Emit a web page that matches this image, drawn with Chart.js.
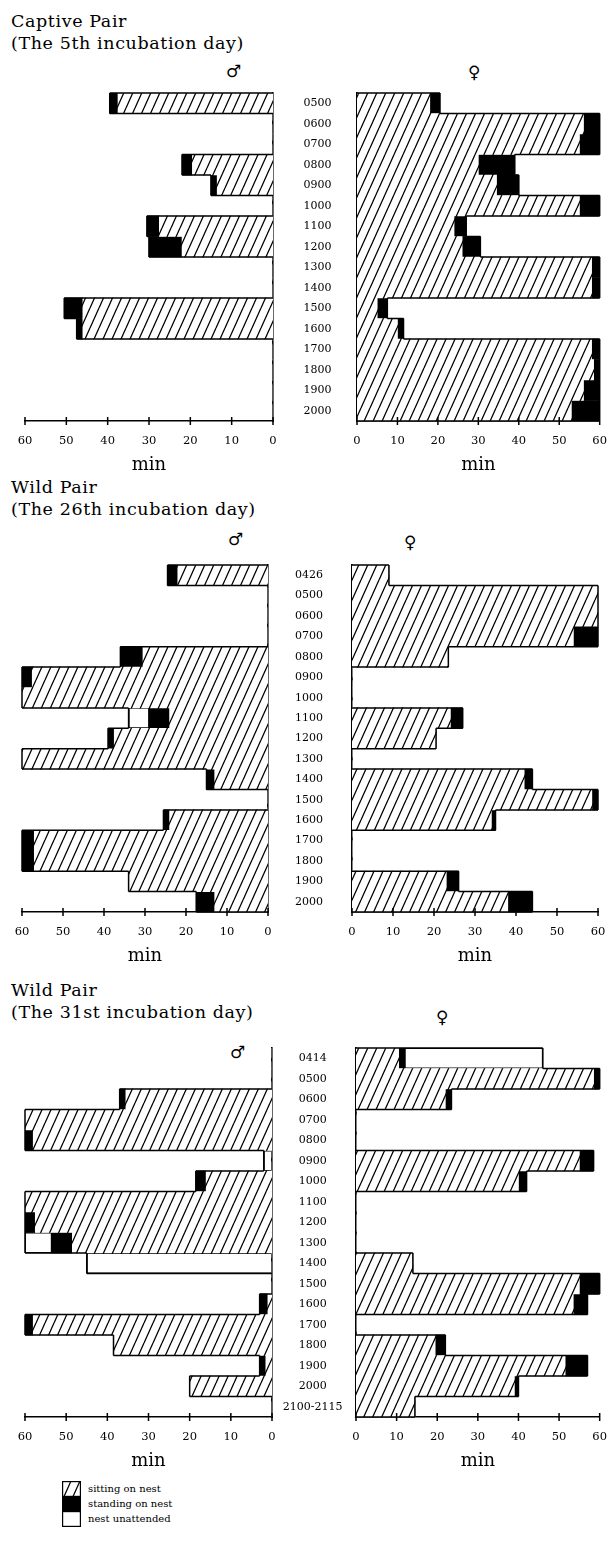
<!DOCTYPE html>
<html>
<head>
<meta charset="utf-8">
<script src="https://cdn.jsdelivr.net/npm/chart.js@4"></script>
<style>
body { margin:0; background:#fff; width:611px; height:1541px; position:relative; overflow:hidden; font-family:'DejaVu Serif', serif; color:#000; }
canvas { position:absolute; }
.title { position:absolute; left:11px; font-size:17.5px; letter-spacing:0.6px; line-height:22px; white-space:nowrap; }
.sym { position:absolute; font-family:'DejaVu Sans', sans-serif; font-size:17px; line-height:17px; }
.leg { position:absolute; left:88px; font-size:10px; line-height:15px; white-space:nowrap; }
</style>
</head>
<body>
<div class="title" style="top:10px">Captive Pair<br>(The 5th incubation day)</div>
<div class="title" style="top:476px">Wild Pair<br>(The 26th incubation day)</div>
<div class="title" style="top:979px">Wild Pair<br>(The 31st incubation day)</div>
<div class="sym" style="left:226px;top:63px">♂</div>
<div class="sym" style="left:468px;top:64px">♀</div>
<div class="sym" style="left:228px;top:531px">♂</div>
<div class="sym" style="left:404px;top:534px">♀</div>
<div class="sym" style="left:230px;top:1044px">♂</div>
<div class="sym" style="left:436px;top:1009px">♀</div>

<div class="leg" style="top:1481px">sitting on nest</div>
<div class="leg" style="top:1496px">standing on nest</div>
<div class="leg" style="top:1511px">nest unattended</div>

<script>
// minutes per hour: sitting (hatched), standing (black), unattended (white)
const minTicks = [0, 10, 20, 30, 40, 50, 60];

const hoursCaptive = ['0500','0600','0700','0800','0900','1000','1100','1200','1300','1400','1500','1600','1700','1800','1900','2000'];
const captiveMaleSit     = [37.5, 0, 0, 19.5, 13.5, 0, 27.5, 22, 0, 0, 46, 46, 0, 0, 0, 0];
const captiveMaleStand   = [2, 0, 0, 2.5, 1.5, 0, 3, 8, 0, 0, 4.5, 1.5, 0, 0, 0, 0];
const captiveMaleOff     = [0, 0, 0, 0, 0, 0, 0, 0, 0, 0, 0, 0, 0, 0, 0, 0];
const captiveFemaleSit   = [18, 56, 55, 30, 34.5, 55, 24, 26, 58, 58, 5, 10, 58, 58.5, 56, 53];
const captiveFemaleStand = [2.5, 4, 5, 9, 5.5, 5, 3, 4.5, 2, 2, 2.5, 1.5, 2, 1.5, 4, 7];
const captiveFemaleOff   = [0, 0, 0, 0, 0, 0, 0, 0, 0, 0, 0, 0, 0, 0, 0, 0];

const hoursWild26 = ['0426','0500','0600','0700','0800','0900','1000','1100','1200','1300','1400','1500','1600','1700','1800','1900','2000'];
const wild26MaleSit     = [22, 0, 0, 0, 30.5, 57.5, 60, 24, 37.5, 60, 13, 0, 24, 57, 57, 34, 13];
const wild26MaleStand   = [2.5, 0, 0, 0, 5.5, 2.5, 0, 5, 1.5, 0, 2, 0, 1.5, 3, 3, 0, 4.5];
const wild26MaleOff     = [0, 0, 0, 0, 0, 0, 0, 5, 0, 0, 0, 0, 0, 0, 0, 0, 0];
const wild26FemaleSit   = [9, 60, 60, 54, 23.5, 0, 0, 24, 20.5, 0, 42, 58.5, 34, 0, 0, 23, 38];
const wild26FemaleStand = [0, 0, 0, 6, 0, 0, 0, 3, 0, 0, 2, 1.5, 1, 0, 0, 3, 6];
const wild26FemaleOff   = [0, 0, 0, 0, 0, 0, 0, 0, 0, 0, 0, 0, 0, 0, 0, 0, 0];

const hoursWild31 = ['0414','0500','0600','0700','0800','0900','1000','1100','1200','1300','1400','1500','1600','1700','1800','1900','2000','2100-2115'];
const wild31MaleSit     = [0, 0, 35.5, 60, 58, 0, 16, 60, 57.5, 48.5, 0, 0, 1, 58, 38.5, 1.5, 20, 0];
const wild31MaleStand   = [0, 0, 1.5, 0, 2, 0, 2.5, 0, 2.5, 5, 0, 0, 2, 2, 0, 1.5, 0, 0];
const wild31MaleOff     = [0, 0, 0, 0, 0, 2, 0, 0, 0, 6.5, 45, 0, 0, 0, 0, 0, 0, 0];
const wild31FemaleSit   = [10.5, 58.5, 22, 0, 0, 55, 40, 0, 0, 0, 14, 55, 53.5, 0, 19.5, 51.5, 39, 14.5];
const wild31FemaleStand = [1.5, 1.5, 1.5, 0, 0, 3.5, 2, 0, 0, 0, 0, 5, 3.5, 0, 2.5, 5.5, 1, 0];
const wild31FemaleOff   = [34, 0, 0, 0, 0, 0, 0, 0, 0, 0, 0, 0, 0, 0, 0, 0, 0, 0];

const serif = "'DejaVu Serif', serif";

function hatchPattern(ctx) {
  const c = document.createElement('canvas');
  c.width = 9; c.height = 20;
  const g = c.getContext('2d');
  g.fillStyle = '#fff';
  g.fillRect(0, 0, 9, 20);
  g.strokeStyle = '#000';
  g.lineWidth = 1.3;
  g.beginPath();
  for (const dx of [-9, 0, 9]) { g.moveTo(dx, 20); g.lineTo(dx + 9, 0); }
  g.stroke();
  return ctx.createPattern(c, 'repeat');
}

// step outline round the bars + crossing tick marks on the min axis
const outline = {
  id: 'outline',
  afterDatasetsDraw(chart) {
    const { ctx, scales: { x, y } } = chart;
    const n = chart.data.labels.length;
    const tot = chart.data.labels.map((_, i) => chart.data.datasets.reduce((s, d) => s + d.data[i], 0));
    const h = y.height / n;
    ctx.save();
    ctx.strokeStyle = '#000';
    ctx.lineWidth = 1.5;
    ctx.beginPath();
    for (let i = 0; i <= n; i++) {
      const top = (i < n ? y.getPixelForValue(i) : y.getPixelForValue(n - 1) + h) - h / 2;
      const cur = i < n ? tot[i] : 0;
      const prev = i ? tot[i - 1] : 0;
      if (i < n && cur > 0) {
        const xe = x.getPixelForValue(cur);
        ctx.moveTo(xe, top); ctx.lineTo(xe, top + h);
      }
      if (prev !== cur) {
        ctx.moveTo(x.getPixelForValue(prev), top);
        ctx.lineTo(x.getPixelForValue(cur), top);
      }
    }
    const yb = x.top;
    x.ticks.forEach(t => {
      const px = x.getPixelForValue(t.value);
      ctx.moveTo(px, yb - 4); ctx.lineTo(px, yb + 4);
    });
    ctx.stroke();
    ctx.restore();
  }
};

function half(box, area, labels, sit, stand, off, male, labPad) {
  const cv = document.createElement('canvas');
  cv.width = box.w; cv.height = box.h;
  cv.style.left = box.l + 'px';
  cv.style.top = box.t + 'px';
  document.body.appendChild(cv);
  const ctx = cv.getContext('2d');
  const hatch = hatchPattern(ctx);
  const bar = { barPercentage: 1, categoryPercentage: 1, borderWidth: 0 };
  return new Chart(ctx, {
    type: 'bar',
    data: {
      labels: labels,
      datasets: [
        Object.assign({ label: 'sitting on nest', data: sit, backgroundColor: hatch }, bar),
        Object.assign({ label: 'standing on nest', data: stand, backgroundColor: '#000' }, bar),
        Object.assign({ label: 'nest unattended', data: off, backgroundColor: '#fff' }, bar,
          { borderWidth: 1.3, borderColor: '#000', borderSkipped: false })
      ]
    },
    options: {
      indexAxis: 'y',
      responsive: false,
      animation: false,
      devicePixelRatio: 1,
      layout: {
        padding: {
          left: male ? area.L - box.l : 0,
          right: male ? 0 : box.l + box.w - area.R,
          top: area.T - box.t,
          bottom: 0
        }
      },
      plugins: { legend: { display: false }, tooltip: { enabled: false } },
      scales: {
        x: {
          type: 'linear', min: 0, max: 60, reverse: male, stacked: true, position: 'bottom',
          afterFit: s => { s.height = box.t + box.h - area.B; },
          afterBuildTicks: s => { s.ticks = minTicks.map(v => ({ value: v })); },
          ticks: { padding: 13, color: '#000', font: { family: serif, size: 11.5 } },
          grid: { display: false, drawTicks: false },
          border: { display: true, color: '#000', width: 1.6 },
          title: { display: true, text: 'min', color: '#000', font: { family: serif, size: 18 }, padding: { top: 0, bottom: 0 } }
        },
        y: {
          type: 'category', stacked: true, position: male ? 'right' : 'left', offset: true,
          afterFit: s => { s.width = male ? box.l + box.w - area.R : area.L - box.l; },
          ticks: { display: !male, autoSkip: false, crossAlign: 'center', padding: labPad, color: '#000', font: { family: serif, size: 11 } },
          grid: { display: false, drawTicks: false },
          border: { display: true, color: '#000', width: 1.6 }
        }
      }
    },
    plugins: [outline]
  });
}

function panel(p, labels, mSit, mStand, mOff, fSit, fStand, fOff) {
  const top = p.T - 45;
  const h = p.B + 55 - top;
  half({ l: 0, t: top, w: p.mR + 10, h: h }, { L: p.mL, R: p.mR, T: p.T, B: p.B },
       labels, mSit, mStand, mOff, true, 0);
  half({ l: 280, t: top, w: 340, h: h }, { L: p.fL, R: p.fR, T: p.T, B: p.B },
       labels, fSit, fStand, fOff, false, p.labPad);
}

panel({ T: 93, B: 421, mL: 25, mR: 273, fL: 357, fR: 605, labPad: 25.5 },
      hoursCaptive, captiveMaleSit, captiveMaleStand, captiveMaleOff, captiveFemaleSit, captiveFemaleStand, captiveFemaleOff);
panel({ T: 565, B: 912, mL: 22, mR: 268, fL: 352, fR: 598, labPad: 29 },
      hoursWild26, wild26MaleSit, wild26MaleStand, wild26MaleOff, wild26FemaleSit, wild26FemaleStand, wild26FemaleOff);
panel({ T: 1048, B: 1417, mL: 25, mR: 272, fL: 356, fR: 603, labPad: 13.5 },
      hoursWild31, wild31MaleSit, wild31MaleStand, wild31MaleOff, wild31FemaleSit, wild31FemaleStand, wild31FemaleOff);

// legend swatches
function swatch(top, kind) {
  const c = document.createElement('canvas');
  c.width = 19; c.height = 16;
  c.style.left = '62px'; c.style.top = top + 'px';
  document.body.appendChild(c);
  const g = c.getContext('2d');
  g.fillStyle = kind === 'sit' ? hatchPattern(g) : (kind === 'stand' ? '#000' : '#fff');
  g.fillRect(0, 0, 19, 16);
  g.strokeStyle = '#000';
  g.lineWidth = 1.2;
  g.strokeRect(0.6, 0.6, 17.8, 14.8);
}
swatch(1481, 'sit');
swatch(1496, 'stand');
swatch(1511, 'off');
</script>
</body>
</html>
